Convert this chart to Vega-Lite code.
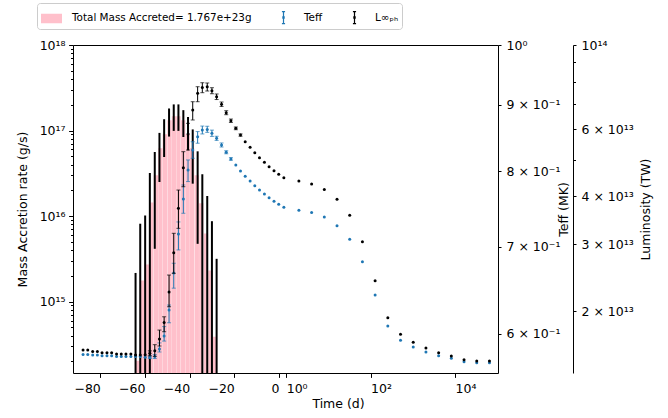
{
"$schema": "https://vega.github.io/schema/vega-lite/v6.json",
"width": 425, "height": 328,
"autosize": {"type": "none"},
"padding": {"left": 73, "top": 45, "right": 170, "bottom": 45},
"background": "white",
"config": {
 "view": {"stroke": "black", "strokeWidth": 1},
 "font": "DejaVu Sans",
 "axis": {"grid": false, "domain": false, "labelFont": "DejaVu Sans", "labelFontSize": 12.5, "labelColor": "black", "tickColor": "black", "titleFont": "DejaVu Sans", "titleFontSize": 12.5, "titleFontWeight": "normal", "titleColor": "black", "tickSize": 4.4, "labelPadding": 3.5, "labelFlush": false, "labelOverlap": false, "labelBound": false}
},
"datasets": {
 "lin": [
  {"t": -85.7, "L": 1.580e13, "T": 0.5785},
  {"t": -83.7, "L": 1.580e13, "T": 0.5785},
  {"t": -81.6, "L": 1.567e13, "T": 0.5780},
  {"t": -79.6, "L": 1.567e13, "T": 0.5780},
  {"t": -77.6, "L": 1.554e13, "T": 0.5773},
  {"t": -75.5, "L": 1.554e13, "T": 0.5773},
  {"t": -73.5, "L": 1.554e13, "T": 0.5773},
  {"t": -71.4, "L": 1.542e13, "T": 0.5766},
  {"t": -69.4, "L": 1.542e13, "T": 0.5766},
  {"t": -67.4, "L": 1.542e13, "T": 0.5766},
  {"t": -65.3, "L": 1.542e13, "T": 0.5766},
  {"t": -63.3, "L": 1.533e13, "T": 0.5766},
  {"t": -61.3, "L": 1.533e13, "T": 0.5766},
  {"t": -59.2, "L": 1.536e13, "T": 0.5759},
  {"t": -57.2, "L": 1.549e13, "T": 0.5759, "Llo": 1.525e13, "Lhi": 1.572e13, "Tlo": 0.5745, "Thi": 0.5773},
  {"t": -55.1, "L": 1.574e13, "T": 0.5766, "Llo": 1.521e13, "Lhi": 1.632e13, "Tlo": 0.5745, "Thi": 0.5785},
  {"t": -53.1, "L": 1.689e13, "T": 0.5843, "Llo": 1.619e13, "Lhi": 1.783e13, "Tlo": 0.5812, "Thi": 0.5906},
  {"t": -51.1, "L": 1.866e13, "T": 0.5978, "Llo": 1.765e13, "Lhi": 1.932e13, "Tlo": 0.5925, "Thi": 0.6079},
  {"t": -49.0, "L": 2.244e13, "T": 0.6259, "Llo": 2.053e13, "Lhi": 2.487e13, "Tlo": 0.6120, "Thi": 0.6315},
  {"t": -47.0, "L": 2.847e13, "T": 0.6683, "Llo": 2.513e13, "Lhi": 3.201e13, "Tlo": 0.6506, "Thi": 0.6799},
  {"t": -45.0, "L": 3.723e13, "T": 0.7161, "Llo": 3.299e13, "Lhi": 4.159e13, "Tlo": 0.6961, "Thi": 0.7314},
  {"t": -42.9, "L": 4.760e13, "T": 0.7616, "Llo": 4.243e13, "Lhi": 5.245e13, "Tlo": 0.7427, "Thi": 0.7808},
  {"t": -40.9, "L": 5.838e13, "T": 0.8017, "Llo": 5.298e13, "Lhi": 6.226e13, "Tlo": 0.7855, "Thi": 0.8161},
  {"t": -38.9, "L": 6.749e13, "T": 0.8307, "Llo": 6.353e13, "Lhi": 7.096e13, "Tlo": 0.8185, "Thi": 0.8428},
  {"t": -36.8, "L": 7.466e13, "T": 0.8503, "Llo": 7.096e13, "Lhi": 7.770e13, "Tlo": 0.8406, "Thi": 0.8581},
  {"t": -34.8, "L": 7.732e13, "T": 0.8604, "Llo": 7.494e13, "Lhi": 7.960e13, "Tlo": 0.8545, "Thi": 0.8665},
  {"t": -32.7, "L": 7.770e13, "T": 0.8614, "Llo": 7.570e13, "Lhi": 7.947e13, "Tlo": 0.8569, "Thi": 0.8662},
  {"t": -30.7, "L": 7.585e13, "T": 0.8555, "Llo": 7.447e13, "Lhi": 7.723e13, "Tlo": 0.8508, "Thi": 0.8603},
  {"t": -28.7, "L": 7.315e13, "T": 0.8479, "Llo": 7.190e13, "Lhi": 7.436e13, "Tlo": 0.8448, "Thi": 0.8510},
  {"t": -26.6, "L": 6.986e13, "T": 0.8381, "Llo": 6.896e13, "Lhi": 7.083e13, "Tlo": 0.8350, "Thi": 0.8410},
  {"t": -24.6, "L": 6.640e13, "T": 0.8273, "Llo": 6.560e13, "Lhi": 6.720e13, "Tlo": 0.8251, "Thi": 0.8295},
  {"t": -22.6, "L": 6.326e13, "T": 0.8176, "Llo": 6.260e13, "Lhi": 6.390e13, "Tlo": 0.8157, "Thi": 0.8195},
  {"t": -20.5, "L": 6.040e13, "T": 0.8087, "Llo": 5.990e13, "Lhi": 6.090e13},
  {"t": -18.5, "L": 5.801e13, "T": 0.8005, "Llo": 5.760e13, "Lhi": 5.840e13},
  {"t": -16.5, "L": 5.570e13, "T": 0.7931},
  {"t": -14.4, "L": 5.385e13, "T": 0.7862},
  {"t": -12.4, "L": 5.212e13, "T": 0.7797},
  {"t": -10.4, "L": 5.057e13, "T": 0.7738},
  {"t": -8.3, "L": 4.918e13, "T": 0.7683},
  {"t": -6.3, "L": 4.788e13, "T": 0.7633},
  {"t": -4.2, "L": 4.673e13, "T": 0.7586},
  {"t": -2.2, "L": 4.573e13, "T": 0.7546},
  {"t": 0, "L": 4.480e13, "T": 0.7506}
 ],
 "logp": [
  {"t": 2, "L": 4.392e13, "T": 0.7467},
  {"t": 4, "L": 4.313e13, "T": 0.7436},
  {"t": 8, "L": 4.171e13, "T": 0.7379},
  {"t": 16, "L": 3.931e13, "T": 0.7266},
  {"t": 32, "L": 3.568e13, "T": 0.7093},
  {"t": 64, "L": 3.043e13, "T": 0.6818},
  {"t": 128, "L": 2.401e13, "T": 0.6429},
  {"t": 256, "L": 1.921e13, "T": 0.6085},
  {"t": 512, "L": 1.738e13, "T": 0.5933},
  {"t": 1024, "L": 1.655e13, "T": 0.5863},
  {"t": 2048, "L": 1.599e13, "T": 0.5812},
  {"t": 4096, "L": 1.554e13, "T": 0.5774},
  {"t": 8192, "L": 1.524e13, "T": 0.5748},
  {"t": 16384, "L": 1.490e13, "T": 0.5713},
  {"t": 32768, "L": 1.478e13, "T": 0.5703},
  {"t": 65536, "L": 1.478e13, "T": 0.5703}
 ],
 "acc": [
  {"t": -63.3, "M": 2.03e14, "Mlo": 1e13, "Mhi": 2.16e15},
  {"t": -61.3, "M": 1.76e15, "Mlo": 1e13, "Mhi": 8.13e15},
  {"t": -59.2, "M": 2.71e15, "Mlo": 1e13, "Mhi": 1.017e16},
  {"t": -57.2, "M": 1.44e16, "Mlo": 1e13, "Mhi": 3.18e16},
  {"t": -55.1, "M": 2.99e16, "Mlo": 4.14e15, "Mhi": 5.61e16},
  {"t": -53.1, "M": 6.2e16, "Mlo": 2.5e16, "Mhi": 9.38e16},
  {"t": -51.1, "M": 9.06e16, "Mlo": 4.9e16, "Mhi": 1.355e17},
  {"t": -49.0, "M": 1.32e17, "Mlo": 8.5e16, "Mhi": 1.81e17},
  {"t": -47.0, "M": 1.47e17, "Mlo": 9.9e16, "Mhi": 2.02e17},
  {"t": -45.0, "M": 1.47e17, "Mlo": 9.9e16, "Mhi": 2.02e17},
  {"t": -42.9, "M": 1.32e17, "Mlo": 8.4e16, "Mhi": 1.73e17},
  {"t": -40.9, "M": 9.06e16, "Mlo": 5.87e16, "Mhi": 1.44e17},
  {"t": -38.9, "M": 6.2e16, "Mlo": 2.39e16, "Mhi": 1.03e17},
  {"t": -36.8, "M": 2.99e16, "Mlo": 4.73e15, "Mhi": 5.71e16},
  {"t": -34.8, "M": 1.41e16, "Mlo": 1e13, "Mhi": 3.08e16},
  {"t": -32.7, "M": 6.25e15, "Mlo": 1e13, "Mhi": 1.71e16},
  {"t": -30.7, "M": 2.3e15, "Mlo": 1e13, "Mhi": 8.7e15},
  {"t": -28.7, "M": 3.88e14, "Mlo": 1e13, "Mhi": 3.16e15}
 ],
 "leg": [
  {"s": "Total Mass Accreted= 1.767e+23g"},
  {"s": "Teff"},
  {"s": "L∞ₚₕ"}
 ]
},
"resolve": {"scale": {"x": "independent", "y": "independent", "shape": "independent", "color": "independent"}},
"layer": [
 {
  "data": {"name": "acc"},
  "mark": {"type": "bar", "color": "#ffc0cb", "width": 4.3, "clip": true},
  "encoding": {
   "x": {"field": "t", "type": "quantitative", "scale": {"domain": [-90, 1], "range": [0, 213.2]},
    "axis": {"orient": "bottom", "values": [-80, -60, -40, -20, 0], "labelAlign": "right", "labelPadding": 5, "title": "Time (d)", "titleX": 265, "titleY": 34, "titleBaseline": "alphabetic", "titleAlign": "center"}},
   "y": {"field": "M", "type": "quantitative", "scale": {"type": "log", "domain": [1.46e14, 1e18]},
    "axis": {"orient": "left", "values": [1e15, 1e16, 1e17, 1e18], "labelExpr": "datum.value >= 1e18 ? '10¹⁸' : datum.value >= 1e17 ? '10¹⁷' : datum.value >= 1e16 ? '10¹⁶' : '10¹⁵'", "title": "Mass Accretion rate (g/s)", "titleX": -51, "titleY": 164, "titleAngle": 270, "titleAlign": "center", "titleBaseline": "middle"}},
   "y2": {"datum": 1e13}
  }
 },
 {
  "data": {"name": "acc"},
  "mark": {"type": "rule", "color": "black", "strokeWidth": 2, "clip": true},
  "encoding": {
   "x": {"field": "t", "type": "quantitative", "scale": {"domain": [-90, 1], "range": [0, 213.2]}, "axis": null},
   "y": {"field": "Mlo", "type": "quantitative", "scale": {"type": "log", "domain": [1.46e14, 1e18]},
    "axis": {"orient": "left", "values": [2e14,3e14,4e14,5e14,6e14,7e14,8e14,9e14,2e15,3e15,4e15,5e15,6e15,7e15,8e15,9e15,2e16,3e16,4e16,5e16,6e16,7e16,8e16,9e16,2e17,3e17,4e17,5e17,6e17,7e17,8e17,9e17], "labels": false, "tickSize": 2.5, "title": null}},
   "y2": {"field": "Mhi"}
  }
 },
 {
  "data": {"name": "lin"},
  "transform": [{"filter": "isValid(datum.Tlo)"}],
  "mark": {"type": "rule", "color": "#1f77b4", "strokeWidth": 1},
  "encoding": {
   "x": {"field": "t", "type": "quantitative", "scale": {"domain": [-90, 1], "range": [0, 213.2]}, "axis": null},
   "y": {"field": "Tlo", "type": "quantitative", "scale": {"type": "log", "domain": [0.56, 1.0]}, "axis": null},
   "y2": {"field": "Thi"}
  }
 },
 {
  "data": {"name": "lin"},
  "transform": [{"filter": "isValid(datum.Tlo)"}, {"fold": ["Tlo", "Thi"], "as": ["k", "v"]}],
  "mark": {"type": "tick", "orient": "horizontal", "color": "#1f77b4", "size": 4, "thickness": 1},
  "encoding": {
   "x": {"field": "t", "type": "quantitative", "scale": {"domain": [-90, 1], "range": [0, 213.2]}, "axis": null},
   "y": {"field": "v", "type": "quantitative", "scale": {"type": "log", "domain": [0.56, 1.0]}, "axis": null}
  }
 },
 {
  "data": {"name": "lin"},
  "mark": {"type": "point", "filled": true, "shape": "circle", "size": 9, "color": "#1f77b4", "opacity": 1},
  "encoding": {
   "x": {"field": "t", "type": "quantitative", "scale": {"domain": [-90, 1], "range": [0, 213.2]}, "axis": null},
   "y": {"field": "T", "type": "quantitative", "scale": {"type": "log", "domain": [0.56, 1.0]},
    "axis": {"orient": "right", "values": [0.6, 0.7, 0.8, 0.9, 1.0], "tickSize": 3, "labelPadding": 5, "labelExpr": "datum.value >= 0.999 ? '10⁰' : format(datum.value * 10, '.0f') + ' × 10⁻¹'", "title": "Teff (MK)", "titleX": 65, "titleY": 164, "titleAngle": 270, "titleAlign": "center", "titleBaseline": "middle"}}
  }
 },
 {
  "data": {"name": "lin"},
  "transform": [{"filter": "isValid(datum.Llo)"}],
  "mark": {"type": "rule", "color": "black", "strokeWidth": 1},
  "encoding": {
   "x": {"field": "t", "type": "quantitative", "scale": {"domain": [-90, 1], "range": [0, 213.2]}, "axis": null},
   "y": {"field": "Llo", "type": "quantitative", "scale": {"type": "log", "domain": [1.375e13, 1e14]},
    "axis": {"orient": "right", "offset": 75, "values": [5e13, 7e13, 8e13, 9e13], "labels": false, "tickSize": 2.5, "domain": true, "domainColor": "black", "title": null}},
   "y2": {"field": "Lhi"}
  }
 },
 {
  "data": {"name": "lin"},
  "transform": [{"filter": "isValid(datum.Llo)"}, {"fold": ["Llo", "Lhi"], "as": ["k", "v"]}],
  "mark": {"type": "tick", "orient": "horizontal", "color": "black", "size": 4, "thickness": 1},
  "encoding": {
   "x": {"field": "t", "type": "quantitative", "scale": {"domain": [-90, 1], "range": [0, 213.2]}, "axis": null},
   "y": {"field": "v", "type": "quantitative", "scale": {"type": "log", "domain": [1.375e13, 1e14]}, "axis": null}
  }
 },
 {
  "data": {"name": "lin"},
  "mark": {"type": "point", "filled": true, "shape": "circle", "size": 9, "color": "black", "opacity": 1},
  "encoding": {
   "x": {"field": "t", "type": "quantitative", "scale": {"domain": [-90, 1], "range": [0, 213.2]}, "axis": null},
   "y": {"field": "L", "type": "quantitative", "scale": {"type": "log", "domain": [1.375e13, 1e14]},
    "axis": {"orient": "right", "offset": 75, "values": [2e13, 3e13, 4e13, 6e13, 1e14], "tickSize": 3, "labelPadding": 5, "labelExpr": "datum.value >= 9.9e13 ? '10¹⁴' : format(datum.value / 1e13, '.0f') + ' × 10¹³'", "title": "Luminosity (TW)", "titleX": 72, "titleY": 164, "titleAngle": 270, "titleAlign": "center", "titleBaseline": "middle"}}
  }
 },
 {
  "data": {"name": "logp"},
  "mark": {"type": "point", "filled": true, "shape": "circle", "size": 9, "color": "#1f77b4", "opacity": 1},
  "encoding": {
   "x": {"field": "t", "type": "quantitative", "scale": {"type": "log", "domain": [1, 104500], "range": [213.2, 425]},
    "axis": {"orient": "bottom", "values": [1, 100, 10000], "labelAlign": "left", "labelPadding": 5, "labelExpr": "datum.value >= 9999 ? '10⁴' : datum.value >= 99 ? '10²' : '10⁰'", "title": null}},
   "y": {"field": "T", "type": "quantitative", "scale": {"type": "log", "domain": [0.56, 1.0]}, "axis": null}
  }
 },
 {
  "data": {"name": "logp"},
  "mark": {"type": "point", "filled": true, "shape": "circle", "size": 9, "color": "black", "opacity": 1},
  "encoding": {
   "x": {"field": "t", "type": "quantitative", "scale": {"type": "log", "domain": [1, 104500], "range": [213.2, 425]}, "axis": null},
   "y": {"field": "L", "type": "quantitative", "scale": {"type": "log", "domain": [1.375e13, 1e14]}, "axis": null}
  }
 },
 {
  "data": {"name": "leg"},
  "mark": {"type": "point", "filled": false, "opacity": 0},
  "encoding": {
   "color": {"field": "s", "type": "nominal",
    "scale": {"domain": ["Total Mass Accreted= 1.767e+23g", "Teff", "L∞ₚₕ"], "range": ["#ffc0cb", "#1f77b4", "black"]},
    "legend": {"title": null, "orient": "none", "legendX": -36, "legendY": -42, "direction": "horizontal", "labelFont": "DejaVu Sans", "labelFontSize": 10.4, "labelColor": "black", "labelLimit": 400, "padding": 3, "strokeColor": "#cccccc", "fillColor": "white", "cornerRadius": 3, "columnPadding": 20, "labelOffset": 9, "symbolSize": 441, "symbolStrokeWidth": 1.2, "symbolOpacity": 1,
     "encode": {"symbols": {"update": {"opacity": {"value": 1}}}}}},
   "shape": {"field": "s", "type": "nominal",
    "scale": {"domain": ["Total Mass Accreted= 1.767e+23g", "Teff", "L∞ₚₕ"], "range": ["M-1,-0.4H1M-1,-0.3H1M-1,-0.2H1M-1,-0.1H1M-1,0H1M-1,0.1H1M-1,0.2H1M-1,0.3H1M-1,0.4H1", "M0,-0.57V0.57M-0.15,-0.57H0.15M-0.15,0.57H0.15M-0.06,-0.06H0.06V0.06H-0.06Z", "M0,-0.57V0.57M-0.15,-0.57H0.15M-0.15,0.57H0.15M-0.06,-0.06H0.06V0.06H-0.06Z"]},
    "legend": {"title": null, "orient": "none", "legendX": -36, "legendY": -42, "direction": "horizontal", "labelFont": "DejaVu Sans", "labelFontSize": 10.4, "labelColor": "black", "labelLimit": 400, "padding": 3, "strokeColor": "#cccccc", "fillColor": "white", "cornerRadius": 3, "columnPadding": 20, "labelOffset": 9, "symbolSize": 441, "symbolStrokeWidth": 1.2, "symbolOpacity": 1,
     "encode": {"symbols": {"update": {"opacity": {"value": 1}}}}}}
  }
 }
]
}
